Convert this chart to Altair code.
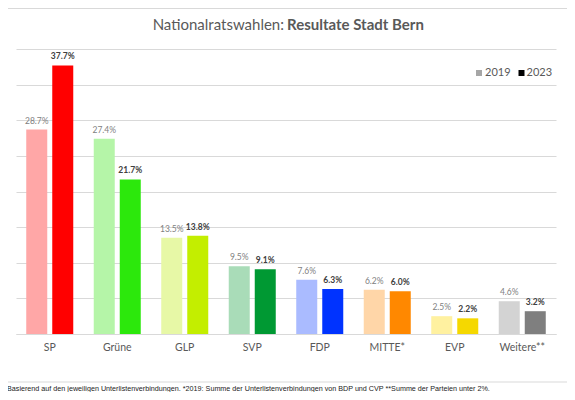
import altair as alt
import pandas as pd

parties = ["SP", "Grüne", "GLP", "SVP", "FDP", "MITTE*", "EVP", "Weitere**"]
years = ["2019", "2023"]
v2019 = [28.7, 27.4, 13.5, 9.5, 7.6, 6.2, 2.5, 4.6]
v2023 = [37.7, 21.7, 13.8, 9.1, 6.3, 6.0, 2.2, 3.2]
c2019 = ["#FFA7A7", "#B5F5A8", "#E7F8A6", "#A9DCB8", "#AABBFF", "#FFD6A8", "#FFF1A0", "#D3D3D3"]
c2023 = ["#FF0000", "#2CE80C", "#C3EE00", "#009933", "#0033FF", "#FF8800", "#F5D800", "#7F7F7F"]
grid_values = [0, 5, 10, 15, 20, 25, 30, 35, 40]

title_normal = "Nationalratswahlen:"
title_bold = "Resultate Stadt Bern"
legend_colors = ["#A6A6A6", "#000000"]
footnote = ("Basierend auf den jeweiligen Unterlistenverbindungen.  "
            "*2019: Summe der Unterlistenverbindungen von BDP und CVP  "
            "**Summe der Parteien unter 2%.")

rows = []
for i, p in enumerate(parties):
    rows.append(dict(party=p, year="2019", value=v2019[i], key=p + "|2019"))
    rows.append(dict(party=p, year="2023", value=v2023[i], key=p + "|2023"))
df = pd.DataFrame(rows)
keys = [p + "|" + y for p in parties for y in years]
colors = [c for pair in zip(c2019, c2023) for c in pair]

FONT = "Lato"
GREY = "#595959"

x = alt.X(
    "party:N", sort=parties,
    scale=alt.Scale(paddingInner=0, paddingOuter=0),
    axis=alt.Axis(title=None, labelAngle=0, ticks=False, domain=True,
                  domainColor="#d9d9d9", labelFont=FONT, labelFontSize=10.5,
                  labelColor=GREY, labelPadding=8, grid=False),
)
xo = alt.XOffset("year:N", sort=years,
                 scale=alt.Scale(paddingInner=0.1923, paddingOuter=0.394))
y = alt.Y(
    "value:Q", scale=alt.Scale(domain=[0, 40], nice=False),
    axis=alt.Axis(title=None, labels=False, ticks=False, domain=False,
                  values=grid_values, grid=True, gridColor="#d9d9d9"),
)

base = alt.Chart(df)

border = alt.Chart(pd.DataFrame({"a": [0]})).mark_rect(
    fillOpacity=0, stroke="#d9d9d9", strokeWidth=1
).encode(x=alt.value(-10), x2=alt.value(552), y=alt.value(-40.5), y2=alt.value(333))

bars = base.mark_bar().encode(
    x=x, xOffset=xo, y=y,
    fill=alt.Fill("key:N", scale=alt.Scale(domain=keys, range=colors), legend=None),
)

lab = base.transform_calculate(
    label="format(datum.value, '.1f') + '%'"
)
lab19 = lab.transform_filter("datum.year == '2019'").mark_text(
    dy=-4, baseline="bottom", font=FONT, fontSize=8.5, color="#7F7F7F"
).encode(x=x, xOffset=xo, y=y, text="label:N")
lab23 = lab.transform_filter("datum.year == '2023'").mark_text(
    dy=-4, baseline="bottom", font=FONT, fontSize=8.5, fontWeight="bold", color="#404040"
).encode(x=x, xOffset=xo, y=y, text="label:N")

ann = alt.Chart(pd.DataFrame({"a": [0]}))
t1 = ann.mark_text(align="right", baseline="middle", font=FONT, fontSize=15,
                   color=GREY, text=title_normal).encode(x=alt.value(268), y=alt.value(-24))
t2 = ann.mark_text(align="left", baseline="middle", font=FONT, fontSize=15,
                   fontWeight="bold", color=GREY, text=title_bold).encode(x=alt.value(271), y=alt.value(-24))

sq1 = ann.mark_square(size=36, color=legend_colors[0], opacity=1).encode(
    x=alt.value(463), y=alt.value(24))
lt1 = ann.mark_text(align="left", baseline="middle", font=FONT, fontSize=11,
                    color=GREY, text=years[0]).encode(x=alt.value(469), y=alt.value(24))
sq2 = ann.mark_square(size=36, color=legend_colors[1], opacity=1).encode(
    x=alt.value(505.5), y=alt.value(24))
lt2 = ann.mark_text(align="left", baseline="middle", font=FONT, fontSize=11,
                    color=GREY, text=years[1]).encode(x=alt.value(510.5), y=alt.value(24))

foot = ann.mark_text(align="left", baseline="middle", font="Liberation Sans",
                     fontSize=7.2, color="#222222", text=footnote).encode(
    x=alt.value(-9), y=alt.value(340))

chart = alt.layer(border, bars, lab19, lab23, t1, t2, sq1, lt1, sq2, lt2, foot).properties(
    width=540, height=285,
    autosize=alt.AutoSizeParams(type="none"),
    padding={"left": 8, "top": 41, "right": 11, "bottom": 58},
    background="white",
).configure_view(stroke=None)

chart.save("out.html", embed_options={"renderer": "svg", "actions": False})
